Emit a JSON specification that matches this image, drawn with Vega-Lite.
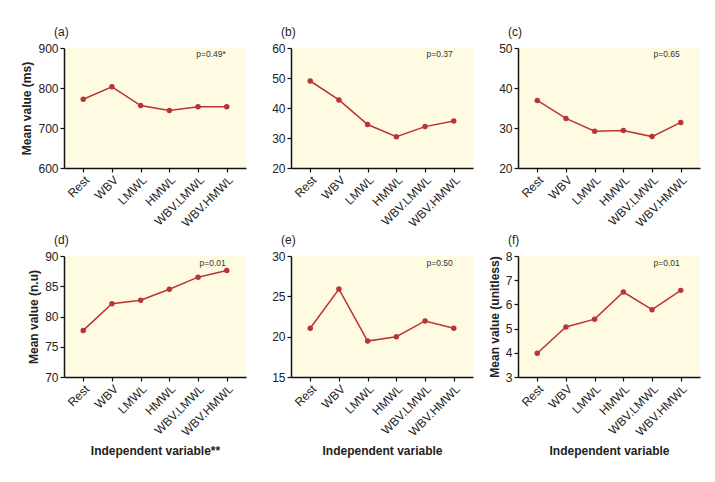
{
  "$schema": "https://vega.github.io/schema/vega-lite/v6.json",
  "padding": {"left": 20, "top": 26, "right": 5, "bottom": 5},
  "background": "white",
  "datasets": {
    "main": [
      {"panel": "a", "cat": "Rest", "value": 772},
      {"panel": "a", "cat": "WBV", "value": 803},
      {"panel": "a", "cat": "LMWL", "value": 756},
      {"panel": "a", "cat": "HMWL", "value": 744},
      {"panel": "a", "cat": "WBV.LMWL", "value": 753},
      {"panel": "a", "cat": "WBV.HMWL", "value": 753},
      {"panel": "b", "cat": "Rest", "value": 49.0},
      {"panel": "b", "cat": "WBV", "value": 42.7},
      {"panel": "b", "cat": "LMWL", "value": 34.5},
      {"panel": "b", "cat": "HMWL", "value": 30.4},
      {"panel": "b", "cat": "WBV.LMWL", "value": 33.8},
      {"panel": "b", "cat": "WBV.HMWL", "value": 35.7},
      {"panel": "c", "cat": "Rest", "value": 36.9},
      {"panel": "c", "cat": "WBV", "value": 32.4},
      {"panel": "c", "cat": "LMWL", "value": 29.2},
      {"panel": "c", "cat": "HMWL", "value": 29.35},
      {"panel": "c", "cat": "WBV.LMWL", "value": 27.85},
      {"panel": "c", "cat": "WBV.HMWL", "value": 31.4},
      {"panel": "d", "cat": "Rest", "value": 77.7},
      {"panel": "d", "cat": "WBV", "value": 82.1},
      {"panel": "d", "cat": "LMWL", "value": 82.7},
      {"panel": "d", "cat": "HMWL", "value": 84.5},
      {"panel": "d", "cat": "WBV.LMWL", "value": 86.5},
      {"panel": "d", "cat": "WBV.HMWL", "value": 87.6},
      {"panel": "e", "cat": "Rest", "value": 21.05},
      {"panel": "e", "cat": "WBV", "value": 25.9},
      {"panel": "e", "cat": "LMWL", "value": 19.45},
      {"panel": "e", "cat": "HMWL", "value": 20.0},
      {"panel": "e", "cat": "WBV.LMWL", "value": 21.95},
      {"panel": "e", "cat": "WBV.HMWL", "value": 21.05},
      {"panel": "f", "cat": "Rest", "value": 3.98},
      {"panel": "f", "cat": "WBV", "value": 5.07},
      {"panel": "f", "cat": "LMWL", "value": 5.39},
      {"panel": "f", "cat": "HMWL", "value": 6.51},
      {"panel": "f", "cat": "WBV.LMWL", "value": 5.78},
      {"panel": "f", "cat": "WBV.HMWL", "value": 6.58}
    ],
    "pvals": [
      {"panel": "a", "cat": "WBV.HMWL", "y": 900, "p": "p=0.49*"},
      {"panel": "b", "cat": "WBV.HMWL", "y": 60, "p": "p=0.37"},
      {"panel": "c", "cat": "WBV.HMWL", "y": 50, "p": "p=0.65"},
      {"panel": "d", "cat": "WBV.HMWL", "y": 90, "p": "p=0.01"},
      {"panel": "e", "cat": "WBV.HMWL", "y": 30, "p": "p=0.50"},
      {"panel": "f", "cat": "WBV.HMWL", "y": 8, "p": "p=0.01"}
    ]
  },
  "columns": 3,
  "spacing": {"column": 45, "row": 88},
  "bounds": "flush",
  "concat": [
    {
      "width": 182, "height": 120,
      "title": {"text": "(a)"},
      "data": {"name": "main"},
      "transform": [{"filter": "datum.panel == 'a'"}],
      "encoding": {
        "x": {"field": "cat", "type": "nominal", "scale": {"type": "point", "padding": 0.67, "domain": ["Rest", "WBV", "LMWL", "HMWL", "WBV.LMWL", "WBV.HMWL"]}, "axis": {"title": null}},
        "y": {"field": "value", "type": "quantitative", "scale": {"domain": [600, 900], "zero": false, "nice": false}, "axis": {"title": "Mean value (ms)", "values": [600, 700, 800, 900]}}
      },
      "layer": [
        {"mark": {"type": "line", "color": "#b93434", "strokeWidth": 1.5}},
        {"mark": {"type": "point", "filled": true, "size": 30, "color": "#b93434", "opacity": 1}},
        {"data": {"name": "pvals"}, "transform": [{"filter": "datum.panel == 'a'"}],
         "mark": {"type": "text", "align": "right", "baseline": "middle", "dx": -1, "dy": 6, "fontSize": 8.5, "color": "#333333"},
         "encoding": {"y": {"field": "y", "type": "quantitative"}, "text": {"field": "p"}}}
      ]
    },
    {
      "width": 182, "height": 120,
      "title": {"text": "(b)"},
      "data": {"name": "main"},
      "transform": [{"filter": "datum.panel == 'b'"}],
      "encoding": {
        "x": {"field": "cat", "type": "nominal", "scale": {"type": "point", "padding": 0.67, "domain": ["Rest", "WBV", "LMWL", "HMWL", "WBV.LMWL", "WBV.HMWL"]}, "axis": {"title": null}},
        "y": {"field": "value", "type": "quantitative", "scale": {"domain": [20, 60], "zero": false, "nice": false}, "axis": {"title": null, "values": [20, 30, 40, 50, 60]}}
      },
      "layer": [
        {"mark": {"type": "line", "color": "#b93434", "strokeWidth": 1.5}},
        {"mark": {"type": "point", "filled": true, "size": 30, "color": "#b93434", "opacity": 1}},
        {"data": {"name": "pvals"}, "transform": [{"filter": "datum.panel == 'b'"}],
         "mark": {"type": "text", "align": "right", "baseline": "middle", "dx": -1, "dy": 6, "fontSize": 8.5, "color": "#333333"},
         "encoding": {"y": {"field": "y", "type": "quantitative"}, "text": {"field": "p"}}}
      ]
    },
    {
      "width": 182, "height": 120,
      "title": {"text": "(c)"},
      "data": {"name": "main"},
      "transform": [{"filter": "datum.panel == 'c'"}],
      "encoding": {
        "x": {"field": "cat", "type": "nominal", "scale": {"type": "point", "padding": 0.67, "domain": ["Rest", "WBV", "LMWL", "HMWL", "WBV.LMWL", "WBV.HMWL"]}, "axis": {"title": null}},
        "y": {"field": "value", "type": "quantitative", "scale": {"domain": [20, 50], "zero": false, "nice": false}, "axis": {"title": null, "values": [20, 30, 40, 50]}}
      },
      "layer": [
        {"mark": {"type": "line", "color": "#b93434", "strokeWidth": 1.5}},
        {"mark": {"type": "point", "filled": true, "size": 30, "color": "#b93434", "opacity": 1}},
        {"data": {"name": "pvals"}, "transform": [{"filter": "datum.panel == 'c'"}],
         "mark": {"type": "text", "align": "right", "baseline": "middle", "dx": -1, "dy": 6, "fontSize": 8.5, "color": "#333333"},
         "encoding": {"y": {"field": "y", "type": "quantitative"}, "text": {"field": "p"}}}
      ]
    },
    {
      "width": 182, "height": 121,
      "title": {"text": "(d)"},
      "data": {"name": "main"},
      "transform": [{"filter": "datum.panel == 'd'"}],
      "encoding": {
        "x": {"field": "cat", "type": "nominal", "scale": {"type": "point", "padding": 0.67, "domain": ["Rest", "WBV", "LMWL", "HMWL", "WBV.LMWL", "WBV.HMWL"]}, "axis": {"title": "Independent variable**"}},
        "y": {"field": "value", "type": "quantitative", "scale": {"domain": [70, 90], "zero": false, "nice": false}, "axis": {"title": "Mean value (n.u)", "values": [70, 75, 80, 85, 90]}}
      },
      "layer": [
        {"mark": {"type": "line", "color": "#b93434", "strokeWidth": 1.5}},
        {"mark": {"type": "point", "filled": true, "size": 30, "color": "#b93434", "opacity": 1}},
        {"data": {"name": "pvals"}, "transform": [{"filter": "datum.panel == 'd'"}],
         "mark": {"type": "text", "align": "right", "baseline": "middle", "dx": -1, "dy": 7, "fontSize": 8.5, "color": "#333333"},
         "encoding": {"y": {"field": "y", "type": "quantitative"}, "text": {"field": "p"}}}
      ]
    },
    {
      "width": 182, "height": 121,
      "title": {"text": "(e)"},
      "data": {"name": "main"},
      "transform": [{"filter": "datum.panel == 'e'"}],
      "encoding": {
        "x": {"field": "cat", "type": "nominal", "scale": {"type": "point", "padding": 0.67, "domain": ["Rest", "WBV", "LMWL", "HMWL", "WBV.LMWL", "WBV.HMWL"]}, "axis": {"title": "Independent variable"}},
        "y": {"field": "value", "type": "quantitative", "scale": {"domain": [15, 30], "zero": false, "nice": false}, "axis": {"title": null, "values": [15, 20, 25, 30]}}
      },
      "layer": [
        {"mark": {"type": "line", "color": "#b93434", "strokeWidth": 1.5}},
        {"mark": {"type": "point", "filled": true, "size": 30, "color": "#b93434", "opacity": 1}},
        {"data": {"name": "pvals"}, "transform": [{"filter": "datum.panel == 'e'"}],
         "mark": {"type": "text", "align": "right", "baseline": "middle", "dx": -1, "dy": 7, "fontSize": 8.5, "color": "#333333"},
         "encoding": {"y": {"field": "y", "type": "quantitative"}, "text": {"field": "p"}}}
      ]
    },
    {
      "width": 182, "height": 121,
      "title": {"text": "(f)"},
      "data": {"name": "main"},
      "transform": [{"filter": "datum.panel == 'f'"}],
      "encoding": {
        "x": {"field": "cat", "type": "nominal", "scale": {"type": "point", "padding": 0.67, "domain": ["Rest", "WBV", "LMWL", "HMWL", "WBV.LMWL", "WBV.HMWL"]}, "axis": {"title": "Independent variable"}},
        "y": {"field": "value", "type": "quantitative", "scale": {"domain": [3, 8], "zero": false, "nice": false}, "axis": {"title": "Mean value (unitless)", "values": [3, 4, 5, 6, 7, 8]}}
      },
      "layer": [
        {"mark": {"type": "line", "color": "#b93434", "strokeWidth": 1.5}},
        {"mark": {"type": "point", "filled": true, "size": 30, "color": "#b93434", "opacity": 1}},
        {"data": {"name": "pvals"}, "transform": [{"filter": "datum.panel == 'f'"}],
         "mark": {"type": "text", "align": "right", "baseline": "middle", "dx": -1, "dy": 7, "fontSize": 8.5, "color": "#333333"},
         "encoding": {"y": {"field": "y", "type": "quantitative"}, "text": {"field": "p"}}}
      ]
    }
  ],
  "config": {
    "font": "Liberation Sans",
    "view": {"fill": "#fffbe3", "stroke": null},
    "title": {"anchor": "start", "frame": "group", "fontSize": 12, "fontWeight": "normal", "color": "#222222", "dx": -10, "offset": 3, "font": "Liberation Sans"},
    "axis": {
      "grid": false,
      "domainColor": "#111111",
      "domainWidth": 1.5,
      "tickColor": "#111111",
      "tickWidth": 1.2,
      "tickSize": 4,
      "labelFontSize": 12,
      "labelColor": "#222222",
      "labelFont": "Liberation Sans",
      "titleFont": "Liberation Sans",
      "titleFontSize": 12,
      "titleFontWeight": "bold",
      "titleColor": "#222222",
      "labelPadding": 2
    },
    "axisX": {"labelAngle": -45, "titlePadding": 8},
    "axisY": {"titlePadding": 4}
  }
}
